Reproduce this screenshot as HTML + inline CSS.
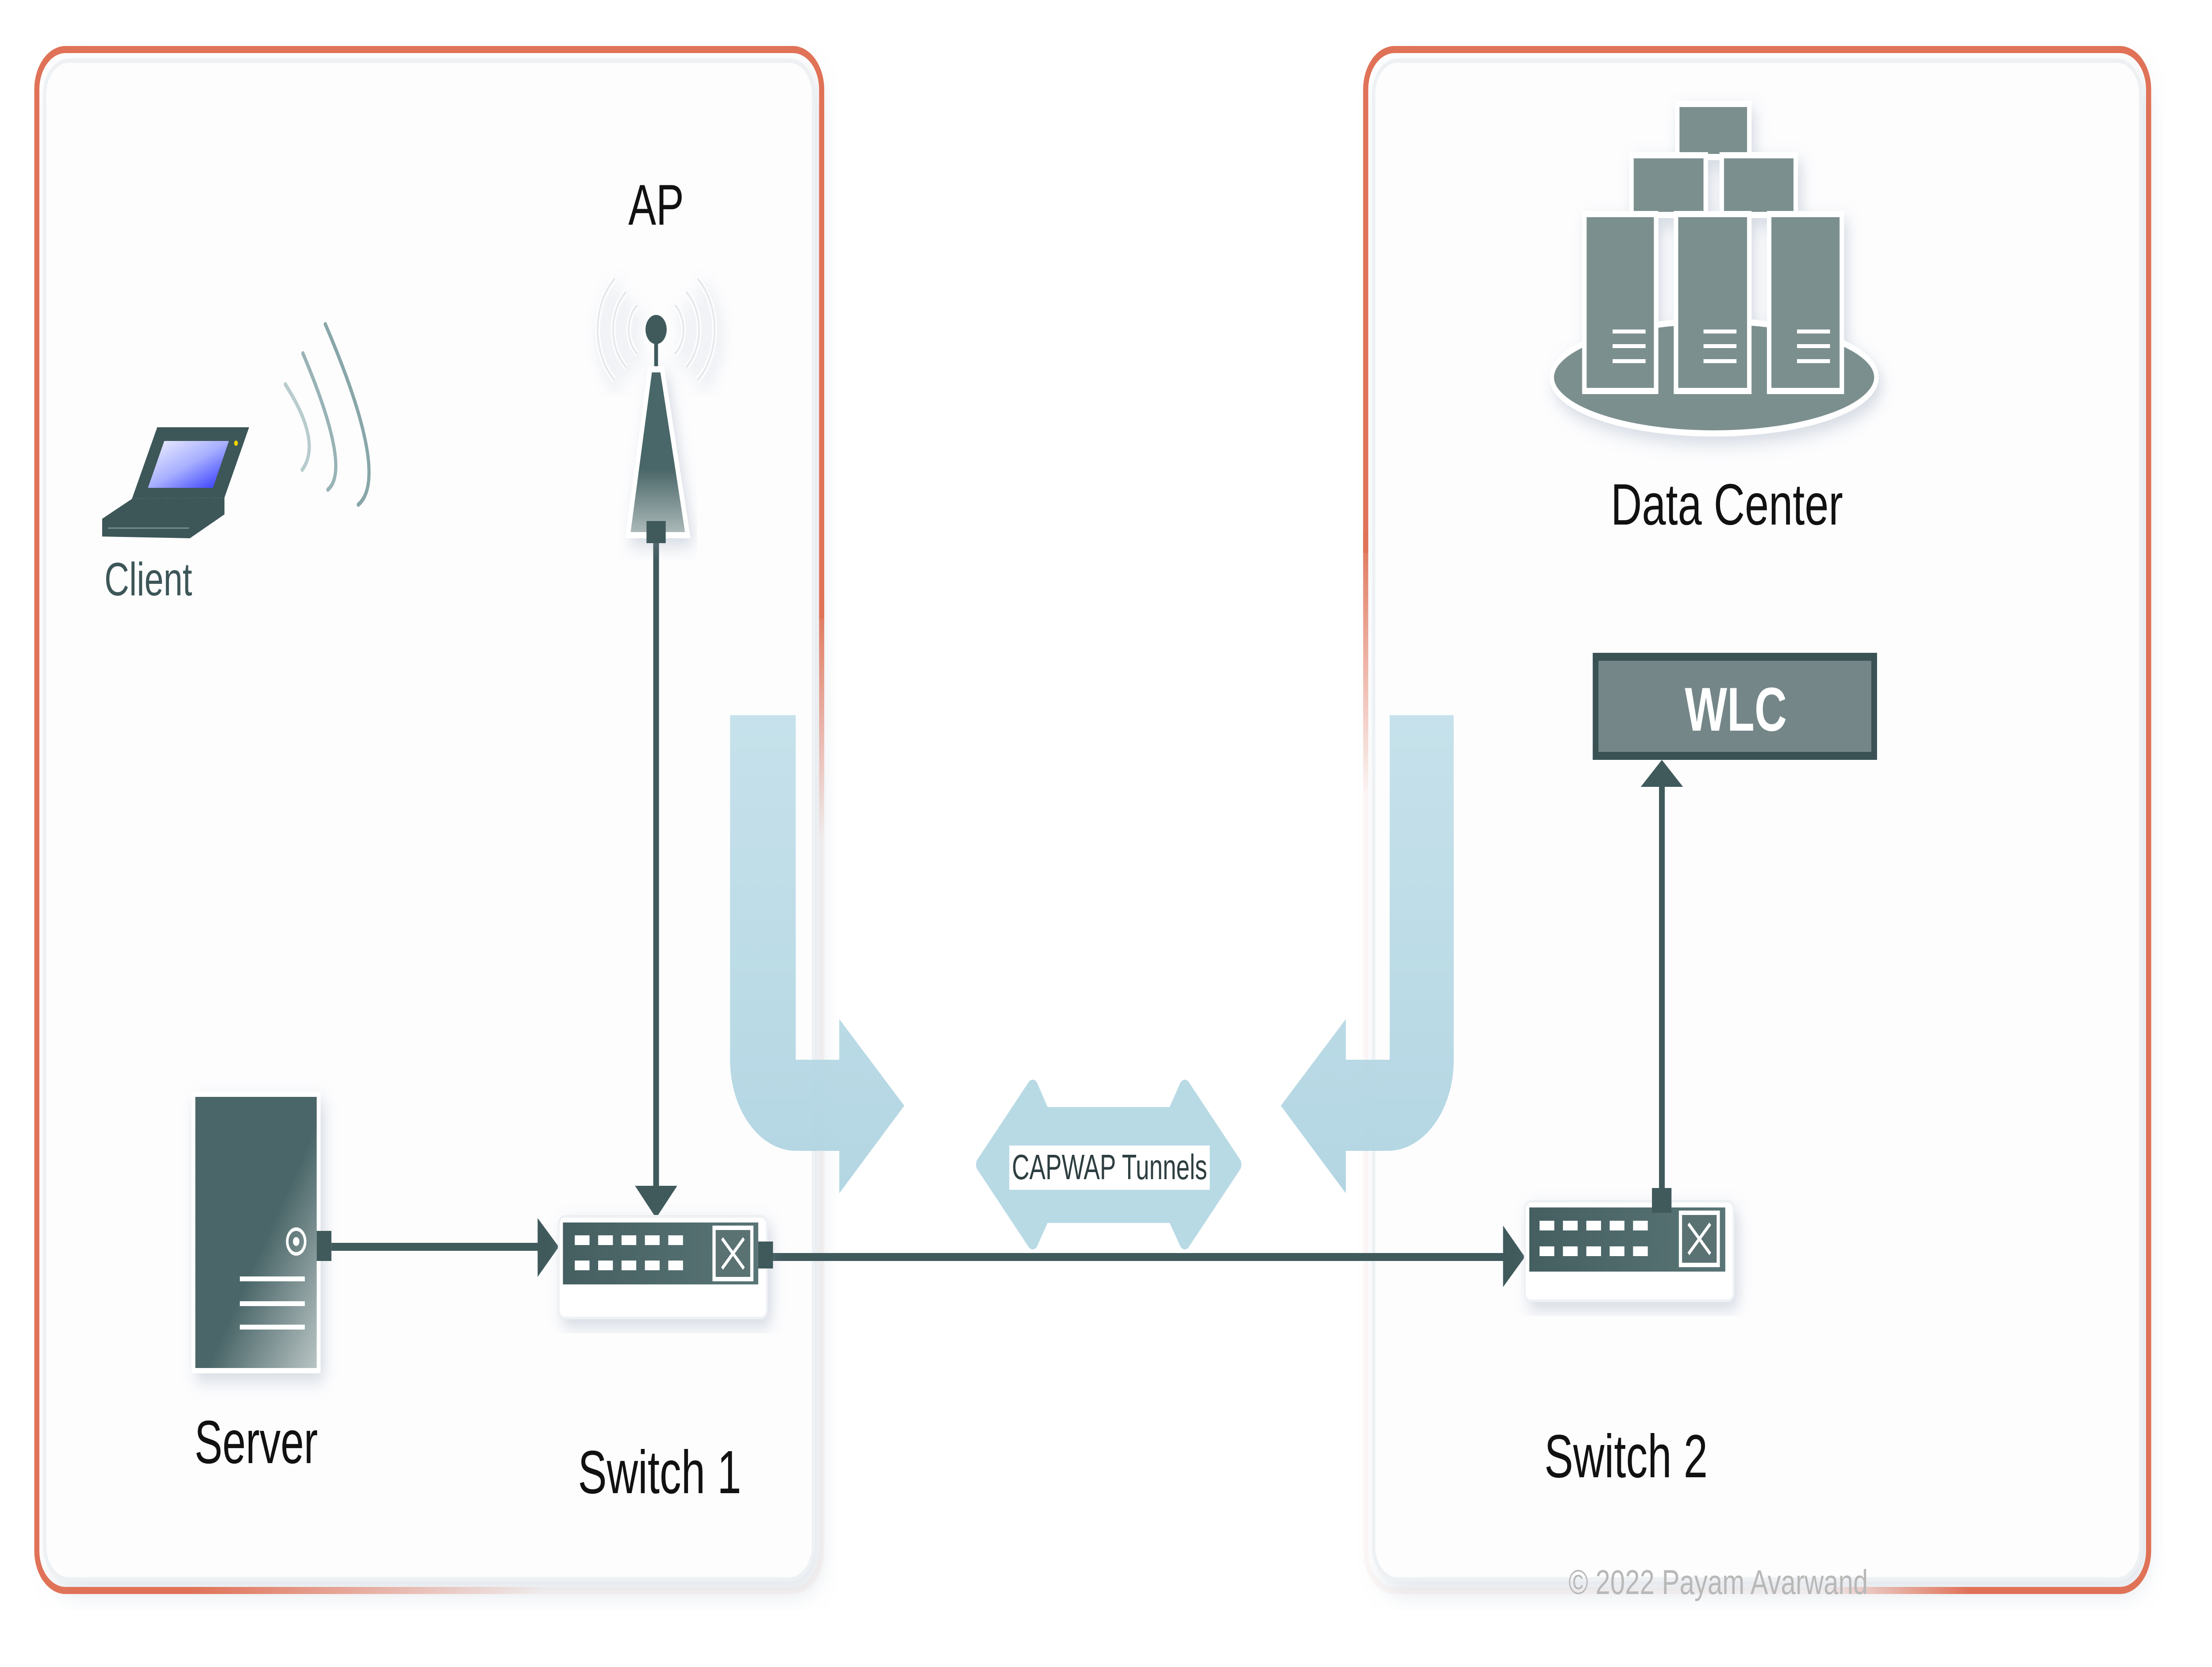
<!DOCTYPE html>
<html><head><meta charset="utf-8"><style>
html,body{margin:0;padding:0;background:#fff;width:100%;height:100%;overflow:hidden;}
svg{display:block;position:absolute;left:0;top:0;width:100vw;height:100vh;}
text{font-family:"Liberation Sans","DejaVu Sans",sans-serif;}
</style></head><body>
<svg viewBox="0 0 6908 3769" preserveAspectRatio="none" xmlns="http://www.w3.org/2000/svg" overflow="hidden">
<defs>
<filter id="sh" x="-4%" y="-3%" width="107%" height="105%"><feDropShadow dx="20" dy="25" stdDeviation="30" flood-color="#8a9ab0" flood-opacity="0.25"/></filter>
<filter id="sh2" x="-15%" y="-15%" width="130%" height="130%"><feDropShadow dx="12" dy="18" stdDeviation="20" flood-color="#8a9ab0" flood-opacity="0.35"/></filter>
<linearGradient id="lr" gradientUnits="userSpaceOnUse" x1="0" y1="1350" x2="0" y2="1900"><stop offset="0" stop-color="#e07258"/><stop offset="1" stop-color="#e07258" stop-opacity="0.05"/></linearGradient>
<linearGradient id="lb" gradientUnits="userSpaceOnUse" x1="600" y1="0" x2="1700" y2="0"><stop offset="0" stop-color="#e07258"/><stop offset="1" stop-color="#e07258" stop-opacity="0.05"/></linearGradient>
<linearGradient id="rl" gradientUnits="userSpaceOnUse" x1="0" y1="1200" x2="0" y2="1800"><stop offset="0" stop-color="#e07258"/><stop offset="1" stop-color="#e07258" stop-opacity="0.05"/></linearGradient>
<linearGradient id="rb" gradientUnits="userSpaceOnUse" x1="6150" y1="0" x2="5700" y2="0"><stop offset="0" stop-color="#e07258"/><stop offset="1" stop-color="#e07258" stop-opacity="0.05"/></linearGradient>
<linearGradient id="blue" x1="0" y1="0" x2="0" y2="1"><stop offset="0" stop-color="#c3e0ea"/><stop offset="1" stop-color="#afd4e1"/></linearGradient>
<linearGradient id="srv" x1="0" y1="0" x2="1" y2="1"><stop offset="0.55" stop-color="#4a6668"/><stop offset="1" stop-color="#b9c4c4"/></linearGradient>
<linearGradient id="ap" x1="0" y1="0" x2="0" y2="1"><stop offset="0.6" stop-color="#4a6668"/><stop offset="1" stop-color="#b0bcbc"/></linearGradient>
<linearGradient id="scr" x1="0" y1="0" x2="1" y2="1"><stop offset="0" stop-color="#f2f2ff"/><stop offset="0.5" stop-color="#a8b0ff"/><stop offset="1" stop-color="#2a30ff"/></linearGradient>
<linearGradient id="sw" x1="0" y1="0" x2="1" y2="0"><stop offset="0" stop-color="#455f61"/><stop offset="1" stop-color="#5a7576"/></linearGradient>
</defs>

<g filter="url(#sh)">
<rect x="140" y="137" width="2400" height="3434" rx="75" fill="#fdfdfe" stroke="#eef1f4" stroke-width="10"/>
</g>
<g filter="url(#sh)">
<rect x="4290" y="137" width="2395" height="3434" rx="75" fill="#fdfdfe" stroke="#eef1f4" stroke-width="10"/>
</g>
<path d="M205,3596 A90,90 0 0 1 115,3506 V202 A90,90 0 0 1 205,112 H2476 A90,90 0 0 1 2566,202 V1400" fill="none" stroke="#e07258" stroke-width="16"/>
<path d="M2566,1350 V3506 A90,90 0 0 1 2476,3596" fill="none" stroke="url(#lr)" stroke-width="16"/>
<path d="M205,3596 H2476" fill="none" stroke="url(#lb)" stroke-width="16"/>
<path d="M4265,1250 V202 A90,90 0 0 1 4355,112 H6620 A90,90 0 0 1 6710,202 V3506 A90,90 0 0 1 6620,3596 H6150" fill="none" stroke="#e07258" stroke-width="16"/>
<path d="M4265,1200 V3506 A90,90 0 0 0 4355,3596" fill="none" stroke="url(#rl)" stroke-width="16"/>
<path d="M4355,3596 H6160" fill="none" stroke="url(#rb)" stroke-width="16"/>

<path d="M2280,1617 H2485 V2396 H2621 V2304 L2824,2500 L2621,2698 V2602 H2486 A206,206 0 0 1 2280,2396 Z" fill="url(#blue)" opacity="0.95"/>
<path d="M4540,1617 H4340 V2396 H4203 V2304 L4000,2500 L4203,2698 V2602 H4334 A206,206 0 0 0 4540,2396 Z" fill="url(#blue)" opacity="0.95"/>
<path d="M3065,2633 L3225,2458 L3262,2520 L3662,2520 L3700,2458 L3860,2633 L3700,2808 L3662,2748 L3262,2748 L3225,2808 Z" fill="#b8dae5" stroke="#b8dae5" stroke-width="34" stroke-linejoin="round"/>
<rect x="3152" y="2590" width="626" height="100" fill="#fff"/>
<text x="3465" y="2666" font-size="80" fill="#2e3e40" text-anchor="middle" textLength="610" lengthAdjust="spacingAndGlyphs">CAPWAP Tunnels</text>

<g fill="#405a5c">
<rect x="2040" y="1205" width="18" height="1480"/>
<path d="M1983,2681 L2115,2681 L2049,2754 Z"/>
<rect x="1035" y="2810" width="650" height="18"/>
<path d="M1679,2754 L1745,2819 L1679,2887 Z"/>
<rect x="2412" y="2833" width="2290" height="18"/>
<path d="M4694,2771 L4762,2842 L4694,2910 Z"/>
<rect x="5181" y="1770" width="18" height="930"/>
<path d="M5124,1779 L5256,1779 L5190,1718 Z"/>
</g>

<text x="2049" y="508" font-size="130" fill="#111" text-anchor="middle">AP</text>
<g fill="none" stroke="#ffffff" stroke-width="14" filter="url(#sh2)">
<path d="M1990,690 A70,70 0 0 0 1990,800"/><path d="M2108,690 A70,70 0 0 1 2108,800"/>
<path d="M1955,660 A110,110 0 0 0 1955,830"/><path d="M2143,660 A110,110 0 0 1 2143,830"/>
<path d="M1920,630 A150,150 0 0 0 1920,860"/><path d="M2178,630 A150,150 0 0 1 2178,860"/>
</g>
<g fill="none" stroke="#e6eaec" stroke-width="6">
<path d="M1990,690 A70,70 0 0 0 1990,800"/><path d="M2108,690 A70,70 0 0 1 2108,800"/>
<path d="M1955,660 A110,110 0 0 0 1955,830"/><path d="M2143,660 A110,110 0 0 1 2143,830"/>
<path d="M1920,630 A150,150 0 0 0 1920,860"/><path d="M2178,630 A150,150 0 0 1 2178,860"/>
</g>
<rect x="2043" y="745" width="12" height="100" fill="#405a5c"/>
<circle cx="2049" cy="745" r="33" fill="#405a5c"/>
<path d="M2030,835 L2068,835 L2148,1210 L1961,1210 Z" fill="url(#ap)" stroke="#fff" stroke-width="14" filter="url(#sh2)"/>
<rect x="2019" y="1178" width="60" height="50" fill="#405a5c"/>

<g>
<path d="M491,966 L778,966 L701,1125 L412,1128 Z" fill="#3d5658"/>
<path d="M513,997 L715,997 L665,1103 L462,1103 Z" fill="url(#scr)"/>
<path d="M412,1128 L701,1125 L701,1163 L593,1217 L319,1213 L319,1173 Z" fill="#3d5658"/>
<circle cx="737" cy="1002" r="6" fill="#f5d400"/>
<line x1="337" y1="1194" x2="590" y2="1194" stroke="#7a8e90" stroke-width="3"/>
</g>
<g fill="none" stroke-width="10" stroke-linecap="round">
<path d="M891,869 Q1006,999 944,1062" stroke="#b8cccd"/>
<path d="M946,799 Q1099,1061 1024,1107" stroke="#98b3b5"/>
<path d="M1016,733 Q1220,1077 1119,1141" stroke="#88a6a8"/>
</g>
<text x="326" y="1346" font-size="106" fill="#3d5658" textLength="274" lengthAdjust="spacingAndGlyphs">Client</text>

<rect x="598" y="2468" width="403" height="637" fill="#fff" filter="url(#sh2)"/>
<rect x="610" y="2480" width="379" height="613" fill="url(#srv)"/>
<circle cx="925" cy="2807" r="28" fill="none" stroke="#fff" stroke-width="8"/>
<circle cx="925" cy="2807" r="10" fill="#fff"/>
<g fill="#fff"><rect x="749" y="2886" width="203" height="11"/><rect x="749" y="2942" width="203" height="11"/><rect x="749" y="2995" width="203" height="11"/></g>
<rect x="989" y="2783" width="46" height="68" fill="#405a5c"/>
<text x="800" y="3308" font-size="138" fill="#111" text-anchor="middle" textLength="385" lengthAdjust="spacingAndGlyphs">Server</text>

<g filter="url(#sh2)">
<rect x="1745" y="2750" width="650" height="230" rx="18" fill="#fff" stroke="#eef1f4" stroke-width="6"/>
</g>
<rect x="1758" y="2764" width="610" height="140" fill="url(#sw)"/>
<g fill="#fff">
<rect x="1795" y="2793" width="46" height="22"/><rect x="1868" y="2793" width="46" height="22"/><rect x="1941" y="2793" width="46" height="22"/><rect x="2014" y="2793" width="46" height="22"/><rect x="2087" y="2793" width="46" height="22"/>
<rect x="1795" y="2850" width="46" height="22"/><rect x="1868" y="2850" width="46" height="22"/><rect x="1941" y="2850" width="46" height="22"/><rect x="2014" y="2850" width="46" height="22"/><rect x="2087" y="2850" width="46" height="22"/>
</g>
<rect x="2230" y="2776" width="118" height="116" fill="#5b7273" stroke="#fff" stroke-width="10"/>
<path d="M2255,2800 L2323,2868 M2323,2800 L2255,2868" stroke="#fff" stroke-width="8"/>
<rect x="2368" y="2807" width="46" height="61" fill="#405a5c"/>
<text x="2060" y="3376" font-size="138" fill="#111" text-anchor="middle" textLength="510" lengthAdjust="spacingAndGlyphs">Switch 1</text>

<g filter="url(#sh2)">
<ellipse cx="5353" cy="853" rx="507" ry="127" fill="#7b8f8f" stroke="#fff" stroke-width="14"/>
<g fill="#7b8f8f" stroke="#fff" stroke-width="14">
<rect x="5238" y="235" width="225" height="120"/>
<rect x="5095" y="351" width="232" height="135"/>
<rect x="5377" y="351" width="231" height="135"/>
<rect x="4948" y="484" width="224" height="400"/>
<rect x="5234" y="484" width="229" height="400"/>
<rect x="5525" y="484" width="227" height="400"/>
</g>
</g>
<g fill="#fff">
<rect x="5036" y="745" width="103" height="9"/><rect x="5036" y="778" width="103" height="9"/><rect x="5036" y="812" width="103" height="9"/>
<rect x="5320" y="745" width="103" height="9"/><rect x="5320" y="778" width="103" height="9"/><rect x="5320" y="812" width="103" height="9"/>
<rect x="5612" y="745" width="103" height="9"/><rect x="5612" y="778" width="103" height="9"/><rect x="5612" y="812" width="103" height="9"/>
</g>
<text x="5393" y="1186" font-size="132" fill="#111" text-anchor="middle" textLength="725" lengthAdjust="spacingAndGlyphs">Data Center</text>

<rect x="4983" y="1485" width="870" height="224" fill="#758688" stroke="#3b5254" stroke-width="18"/>
<text x="5421" y="1652" font-size="140" font-weight="bold" fill="#fff" text-anchor="middle">WLC</text>

<g filter="url(#sh2)">
<rect x="4762" y="2716" width="652" height="225" rx="18" fill="#fff" stroke="#eef1f4" stroke-width="6"/>
</g>
<rect x="4776" y="2730" width="612" height="145" fill="url(#sw)"/>
<g fill="#fff">
<rect x="4808" y="2760" width="46" height="22"/><rect x="4881" y="2760" width="46" height="22"/><rect x="4954" y="2760" width="46" height="22"/><rect x="5027" y="2760" width="46" height="22"/><rect x="5100" y="2760" width="46" height="22"/>
<rect x="4808" y="2818" width="46" height="22"/><rect x="4881" y="2818" width="46" height="22"/><rect x="4954" y="2818" width="46" height="22"/><rect x="5027" y="2818" width="46" height="22"/><rect x="5100" y="2818" width="46" height="22"/>
</g>
<rect x="5248" y="2742" width="118" height="118" fill="#5b7273" stroke="#fff" stroke-width="10"/>
<path d="M5273,2767 L5341,2835 M5341,2767 L5273,2835" stroke="#fff" stroke-width="8"/>
<rect x="5159" y="2686" width="61" height="56" fill="#405a5c"/>
<text x="5078" y="3340" font-size="138" fill="#111" text-anchor="middle" textLength="510" lengthAdjust="spacingAndGlyphs">Switch 2</text>

<text x="5366" y="3604" font-size="78" fill="#b8b8b8" text-anchor="middle" textLength="935" lengthAdjust="spacingAndGlyphs">© 2022 Payam Avarwand</text>
</svg>
</body></html>
